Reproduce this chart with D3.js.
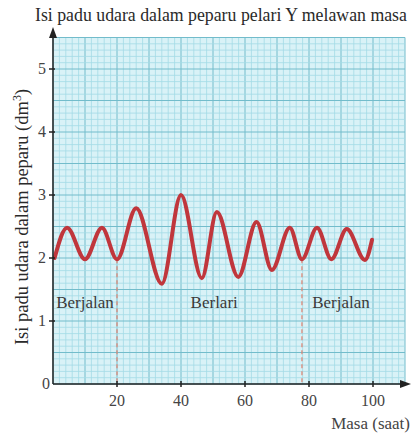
<!DOCTYPE html>
<html>
<head>
<meta charset="utf-8">
<script src="https://cdn.jsdelivr.net/npm/d3@7"></script>
<style>
  body { margin: 0; background: #fff; }
  text { font-family: "Liberation Serif", "DejaVu Serif", serif; fill: #333; }
</style>
</head>
<body>
<div id="chart"></div>
<script>
// values
var masa = [0.5, 4.4, 10, 15.3, 20, 26, 34, 40, 46.5, 51.2, 57.9, 63.6, 68.4, 74, 77.8, 82.5, 87, 91.8, 97.5, 99.7];
var isiPadu = [2.0, 2.48, 1.98, 2.48, 1.98, 2.79, 1.59, 3.0, 1.68, 2.73, 1.70, 2.57, 1.81, 2.48, 1.98, 2.48, 1.98, 2.46, 1.97, 2.29];
var xTicks = [20, 40, 60, 80, 100];
var yTicks = [0, 1, 2, 3, 4, 5];
var phaseLines = [20, 77.8];
var phaseLabels = ["Berjalan", "Berlari", "Berjalan"];
var phaseLabelX = [1, 43, 81];

var width = 414, height = 437;

var x = d3.scaleLinear().domain([0, 110]).range([53, 405]);
var y = d3.scaleLinear().domain([0, 5.5]).range([384, 37.5]);

var svg = d3.select("#chart").append("svg")
  .attr("width", width)
  .attr("height", height);

/* graph paper */
svg.append("rect")
  .attr("x", x(0)).attr("y", y(5.5))
  .attr("width", x(110) - x(0)).attr("height", y(0) - y(5.5))
  .attr("fill", "#d9f2f7");

var grid = svg.append("g");
d3.range(0, 111, 2).forEach(function (v) {
  var major = v % 10 == 0;
  grid.append("line")
    .attr("x1", x(v)).attr("x2", x(v))
    .attr("y1", y(0)).attr("y2", y(5.5))
    .attr("stroke", major ? "#72bccb" : "#a3dae6")
    .attr("stroke-width", major ? 1 : 0.8);
});
d3.range(0, 56).forEach(function (i) {
  var v = i / 10;
  var major = i % 5 == 0;
  grid.append("line")
    .attr("x1", x(0)).attr("x2", x(110))
    .attr("y1", y(v)).attr("y2", y(v))
    .attr("stroke", major ? "#72bccb" : "#a3dae6")
    .attr("stroke-width", major ? 1 : 0.8);
});

/* dashed lines where the pace changes */
svg.selectAll(".phase")
  .data(phaseLines)
  .enter().append("line")
  .attr("x1", function (d) { return x(d); })
  .attr("x2", function (d) { return x(d); })
  .attr("y1", y(1.98))
  .attr("y2", y(0))
  .attr("stroke", "#e0826f")
  .attr("stroke-width", 1.2)
  .attr("stroke-dasharray", "4,3");

/* phase labels */
svg.selectAll(".plabel")
  .data(phaseLabels)
  .enter().append("text")
  .attr("x", function (d, i) { return x(phaseLabelX[i]); })
  .attr("y", y(1.2))
  .style("font-size", "17px")
  .style("fill", "#3a3a3a")
  .text(function (d) { return d; });

/* the curve */
var pts = masa.map(function (m, i) { return {x: m, y: isiPadu[i]}; });
var line = d3.line()
  .x(function (d) { return x(d.x); })
  .y(function (d) { return y(d.y); })
  .curve(d3.curveMonotoneX);

svg.append("path")
  .datum(pts)
  .attr("d", line)
  .attr("fill", "none")
  .attr("stroke", "#c0363c")
  .attr("stroke-width", 4)
  .attr("stroke-linecap", "round");

/* axes */
svg.append("line")
  .attr("x1", x(0)).attr("x2", 403)
  .attr("y1", y(0)).attr("y2", y(0))
  .attr("stroke", "#222").attr("stroke-width", 1.5);
svg.append("path")
  .attr("d", "M411," + y(0) + "L400," + (y(0) - 4) + "L400," + (y(0) + 4) + "Z")
  .attr("fill", "#222");

svg.append("line")
  .attr("x1", x(0)).attr("x2", x(0))
  .attr("y1", y(0)).attr("y2", 36)
  .attr("stroke", "#222").attr("stroke-width", 1.5);
svg.append("path")
  .attr("d", "M" + x(0) + ",27L" + (x(0) - 4) + ",38L" + (x(0) + 4) + ",38Z")
  .attr("fill", "#222");

// x ticks
svg.selectAll(".xt")
  .data(xTicks)
  .enter().append("line")
  .attr("x1", function (d) { return x(d); })
  .attr("x2", function (d) { return x(d); })
  .attr("y1", y(0) - 3).attr("y2", y(0) + 3)
  .attr("stroke", "#222").attr("stroke-width", 1.5);
svg.selectAll(".xl")
  .data(xTicks)
  .enter().append("text")
  .attr("x", function (d) { return x(d); })
  .attr("y", y(0) + 22)
  .attr("text-anchor", "middle")
  .style("font-size", "16px")
  .style("fill", "#444")
  .text(function (d) { return d; });

// y ticks
svg.selectAll(".yt")
  .data(yTicks.slice(1))
  .enter().append("line")
  .attr("x1", x(0) - 4).attr("x2", x(0) + 2)
  .attr("y1", function (d) { return y(d); })
  .attr("y2", function (d) { return y(d); })
  .attr("stroke", "#222").attr("stroke-width", 1.5);
svg.selectAll(".yl")
  .data(yTicks)
  .enter().append("text")
  .attr("x", function (d) { return d == 0 ? x(0) - 3 : x(0) - 7; })
  .attr("y", function (d) { return y(d) + 5; })
  .attr("text-anchor", "end")
  .style("font-size", "16px")
  .style("fill", "#444")
  .text(function (d) { return d; });

/* titles */
svg.append("text")
  .attr("x", 35).attr("y", 21)
  .style("font-size", "17.8px")
  .style("fill", "#2a2a2a")
  .text("Isi padu udara dalam peparu pelari Y melawan masa");

svg.append("text")
  .attr("x", 410).attr("y", 429)
  .attr("text-anchor", "end")
  .style("font-size", "17px")
  .style("fill", "#444")
  .text("Masa (saat)");

var yl = svg.append("text")
  .attr("transform", "translate(28,217) rotate(-90)")
  .attr("text-anchor", "middle")
  .style("font-size", "18.5px")
  .style("fill", "#2a2a2a");
yl.append("tspan").text("Isi padu udara dalam peparu (dm");
yl.append("tspan").attr("dy", -7).style("font-size", "12px").text("3");
yl.append("tspan").attr("dy", 7).text(")");
</script>
</body>
</html>
